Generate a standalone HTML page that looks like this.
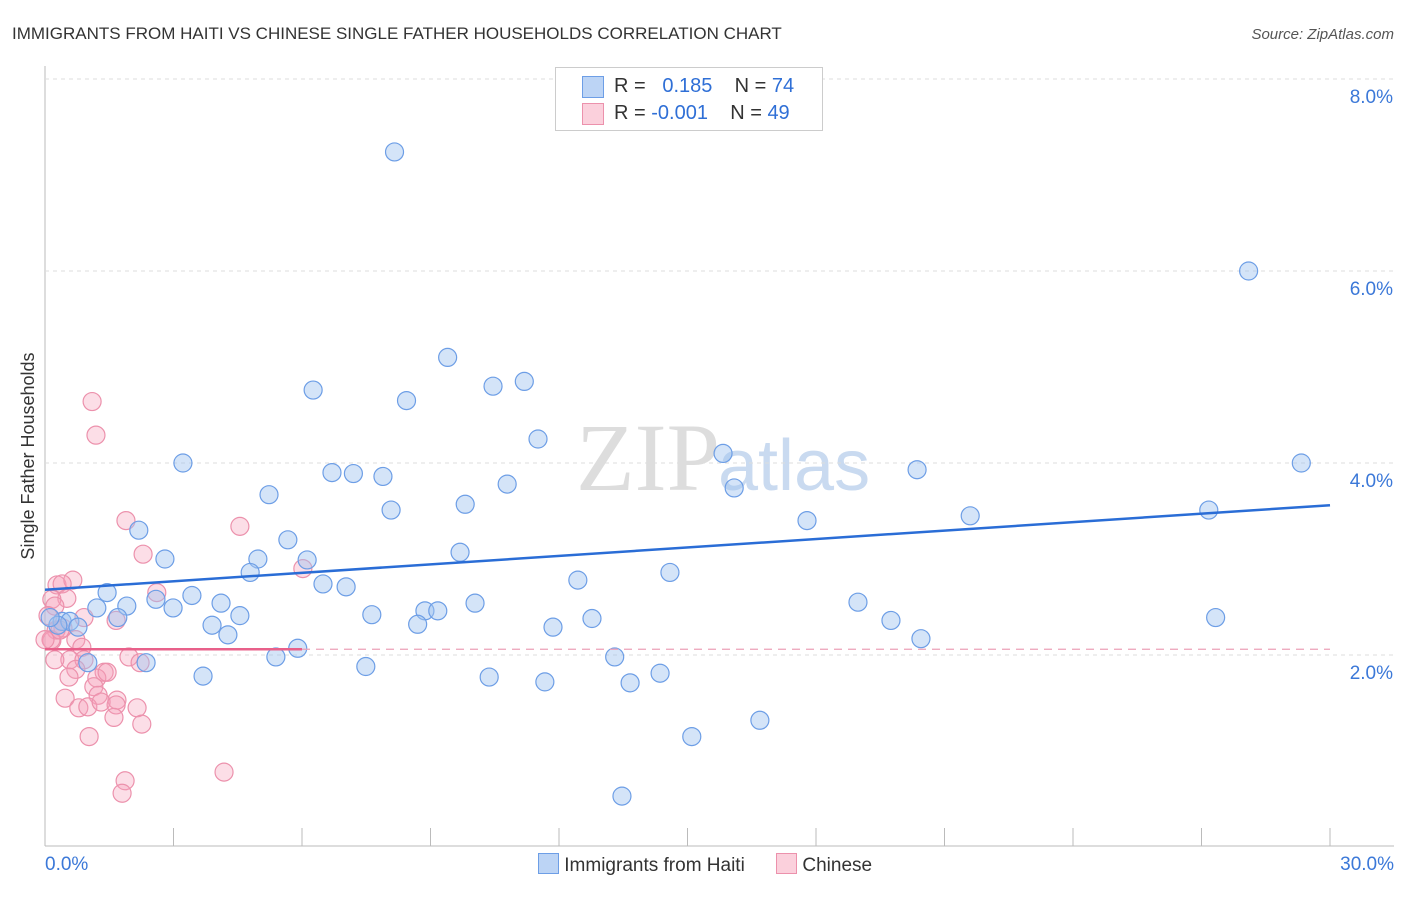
<!DOCTYPE html>
<html><head><meta charset="utf-8"><style>
body{margin:0;background:#fff;font-family:"Liberation Sans",sans-serif}
#wrap{position:relative;width:1406px;height:892px}
</style></head><body>
<div id="wrap">
<svg id="svg" width="1406" height="892" xmlns="http://www.w3.org/2000/svg">
<text x="12" y="39" font-size="17" fill="#333">IMMIGRANTS FROM HAITI VS CHINESE SINGLE FATHER HOUSEHOLDS CORRELATION CHART</text>
<text x="1394" y="39" font-size="15" fill="#555" text-anchor="end" font-style="italic">Source: ZipAtlas.com</text>
<text x="720" y="490" font-size="96" fill="#ddd" text-anchor="end" font-family="Liberation Serif">ZIP</text>
<text x="718" y="490" font-size="72" fill="#c9daf0">atlas</text>
<text x="34" y="456" font-size="18" fill="#333" text-anchor="middle" transform="rotate(-90 34 456)">Single Father Households</text>
<g id="grid"></g><g id="marks"></g>
</svg>
<div style="position:absolute;left:555px;top:67px;width:266px;height:62px;border:1px solid #ccc;background:#fff;font-size:20px">
<div style="position:absolute;left:26px;top:8px;width:20px;height:20px;background:#bcd4f5;border:1px solid #6d9ee6"></div>
<div style="position:absolute;left:58px;top:7px;color:#333">R = &nbsp;&nbsp;<span style="color:#2f6fd6">0.185</span> &nbsp;&nbsp;&nbsp;N = <span style="color:#2f6fd6">74</span></div>
<div style="position:absolute;left:26px;top:35px;width:20px;height:20px;background:#fbd0dc;border:1px solid #ec91ac"></div>
<div style="position:absolute;left:58px;top:34px;color:#333">R = <span style="color:#2f6fd6">-0.001</span> &nbsp;&nbsp;&nbsp;N = <span style="color:#2f6fd6">49</span></div>
</div>
<div style="position:absolute;left:538px;top:853px;font-size:19px;color:#333">
<span style="display:inline-block;width:19px;height:19px;background:#bcd4f5;border:1px solid #6d9ee6;vertical-align:-3px"></span> Immigrants from Haiti
<span style="display:inline-block;width:19px;height:19px;background:#fbd0dc;border:1px solid #ec91ac;vertical-align:-3px;margin-left:26px"></span> Chinese</div>
</div>
<script>
const yTicks=[2,4,6,8];
const yTickLabels=["2.0%","4.0%","6.0%","8.0%"];
const blueX=[8.16,28.1,9.4,6.26,10.46,11.19,8.44,11.51,3.22,6.7,7.2,7.89,15.83,29.33,20.36,10.79,16.09,5.23,9.81,8.08,21.6,27.17,17.79,5.67,2.19,2.8,9.69,4.97,6.12,4.79,14.59,12.44,6.49,7.03,1.45,3.43,2.59,4.11,1.91,1.21,2.99,10.04,18.98,8.87,9.17,7.63,4.55,1.7,12.77,19.75,27.33,3.9,8.7,11.86,4.27,0.4,0.58,0.3,0.12,0.77,20.45,5.9,5.39,13.3,1.0,2.36,7.49,3.69,10.37,11.67,13.66,14.36,16.69,15.1,13.47];
const blueY=[7.24,6.0,5.1,4.76,4.8,4.85,4.65,4.25,4.0,3.9,3.89,3.86,4.1,4.0,3.93,3.78,3.74,3.67,3.57,3.51,3.45,3.51,3.4,3.2,3.3,3.0,3.07,3.0,2.99,2.86,2.86,2.78,2.74,2.71,2.65,2.62,2.58,2.54,2.51,2.49,2.49,2.54,2.55,2.46,2.46,2.42,2.41,2.39,2.38,2.36,2.39,2.31,2.32,2.29,2.21,2.35,2.35,2.31,2.39,2.29,2.17,2.07,1.98,1.98,1.92,1.92,1.88,1.78,1.77,1.72,1.71,1.81,1.32,1.15,0.53];
const pinkX=[1.1,1.19,1.89,4.55,2.29,6.02,0.28,0.65,0.4,0.51,0.16,0.23,0.91,1.66,2.61,0.07,0.26,0.42,0.72,0.16,0.86,0.58,0.23,1.96,2.22,0.91,1.38,1.21,0.72,1.14,0.56,1.68,1.24,1.45,0.47,0.79,1.0,1.31,1.66,2.15,1.61,2.26,1.03,1.87,1.8,4.18,0.14,0.35,0.0];
const pinkY=[4.64,4.29,3.4,3.34,3.05,2.9,2.73,2.78,2.74,2.59,2.58,2.51,2.39,2.36,2.65,2.41,2.26,2.28,2.16,2.15,2.08,1.95,1.95,1.98,1.92,1.95,1.82,1.76,1.85,1.67,1.77,1.53,1.58,1.82,1.55,1.45,1.46,1.51,1.48,1.45,1.35,1.28,1.15,0.69,0.56,0.78,2.16,2.26,2.16];
const blueFit=[2.68,3.56];
const pinkFit=[2.06,2.06];
const X0=45,X1=1330,YB=847;
const sx=v=>X0+(v/30)*(X1-X0);
const sy=v=>YB-v*96;
const NS="http://www.w3.org/2000/svg";
const g=document.getElementById('grid'),m=document.getElementById('marks');
function mk(p,t,a){const e=document.createElementNS(NS,t);for(const k in a)e.setAttribute(k,a[k]);p.appendChild(e);return e;}
let ax=mk(g,'line',{x1:45,y1:66,x2:45,y2:846,stroke:'#bbb'});


let bx=mk(g,'line',{x1:45,y1:846,x2:1394,y2:846,stroke:'#bbb'});


yTicks.forEach((t,i)=>{
 const l=mk(g,'line',{x1:45,y1:sy(t),x2:1394,y2:sy(t),stroke:'#ddd','stroke-dasharray':'4,4'});
 
 
 const tx=mk(g,'text',{x:1393,y:sy(t)+24,'font-size':19,fill:'#3b78d8','text-anchor':'end'});
 tx.textContent=yTickLabels[i];
 
 
});
for(let i=1;i<=10;i++){const x=sx(i*3);
 const l=mk(g,'line',{x1:x,y1:828,x2:x,y2:846,stroke:'#bbb'});
 
 }
const xl0=mk(g,'text',{x:45,y:870,'font-size':19,fill:'#3b78d8'});xl0.textContent='0.0%';


const xl1=mk(g,'text',{x:1394,y:870,'font-size':19,fill:'#3b78d8','text-anchor':'end'});xl1.textContent='30.0%';


pinkX.forEach((v,i)=>{const c=mk(m,'circle',{cx:sx(v),cy:sy(pinkY[i]),r:9,fill:'rgba(245,160,185,0.35)',stroke:'#ec91ac','stroke-width':1.2});
 
 });
blueX.forEach((v,i)=>{const c=mk(m,'circle',{cx:sx(v),cy:sy(blueY[i]),r:9,fill:'rgba(160,195,240,0.45)',stroke:'#6d9ee6','stroke-width':1.2});
 
 });
const bl=mk(m,'line',{x1:sx(0),y1:sy(blueFit[0]),x2:sx(30),y2:sy(blueFit[1]),stroke:'#2a6dd6','stroke-width':2.5});


const pl=mk(m,'line',{x1:sx(0),y1:sy(pinkFit[0]),x2:sx(6),y2:sy(pinkFit[0]),stroke:'#e8608a','stroke-width':2.5});


const pd=mk(m,'line',{x1:sx(6),y1:sy(pinkFit[0]),x2:sx(30),y2:sy(pinkFit[1]),stroke:'#eca0b8','stroke-width':1.2,'stroke-dasharray':'8,6'});


</script>
</body></html>
